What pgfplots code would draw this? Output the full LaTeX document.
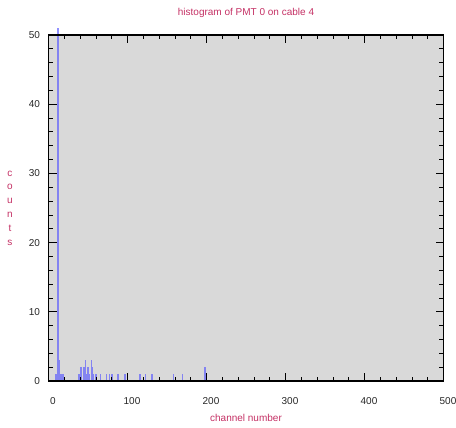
\documentclass[border=0pt]{standalone}
\usepackage{fontspec}
\setmainfont{Liberation Sans}
\usepackage{pgfplots}
\pgfplotsset{compat=1.18}
\definecolor{lab}{RGB}{196,48,100}
\definecolor{bg}{RGB}{217,217,217}
\definecolor{barc}{RGB}{85,85,255}
\begin{document}
\begin{tikzpicture}
\begin{axis}[
 scale only axis, width=395pt, height=346pt,
 xmin=0, xmax=500, ymin=0, ymax=50,
 axis background/.style={fill=bg},
 clip=false, axis on top,
 xtick={0,100,...,500}, ytick={0,10,...,50},
 minor x tick num=4, minor y tick num=4,
 tick align=inside, tick pos=both,
 major tick length=8pt, minor tick length=4.5pt,
 every tick/.style={black, line width=0.8pt},
 axis line style={line width=1.2pt},
 tick label style={font=\fontsize{10}{12}\selectfont, text=black!85},
 /pgf/number format/assume math mode=true,
 xticklabel style={xshift=4.5pt, yshift=-13pt},
 yticklabel style={xshift=-5pt},
]
\addplot[ycomb, color=barc, line width=1.3pt, opacity=0.65, mark=none] coordinates {
(9,1) (10,1) (11,48) (12,51) (13,26) (14,3) (15,1) (16,1) (17,1) (19,1)
(38,1) (39,1) (41,2) (42,1) (44,1) (45,2) (47,3) (48,1) (50,2) (51,1) (52,1)
(54,3) (55,1) (56,2) (57,1) (60,1) (61,1) (66,1) (73,1) (77,1) (80,1) (81,1)
(87,1) (88,1) (96,1) (97,1) (116,1) (123,1) (130,1) (132,1) (158,1) (170,1)
(198,2) (199,1)
};
\node[font=\fontsize{10}{12}\selectfont, text=lab] at ([yshift=22pt]rel axis cs:0.5,1) {histogram of PMT 0 on cable 4};
\node[font=\fontsize{10}{12}\selectfont, text=lab] at ([yshift=-37pt]rel axis cs:0.5,0) {channel number};
\node[font=\fontsize{10}{13.8}\selectfont, text=lab, align=center] at ([xshift=-38.5pt]rel axis cs:0,0.5) {c\\o\\u\\n\\t\\s};
\end{axis}
\pgfresetboundingbox
\path[use as bounding box] ([xshift=-48.5pt,yshift=-46pt]current axis.south west) rectangle ([xshift=12.5pt,yshift=35pt]current axis.north east);
\end{tikzpicture}
\end{document}
